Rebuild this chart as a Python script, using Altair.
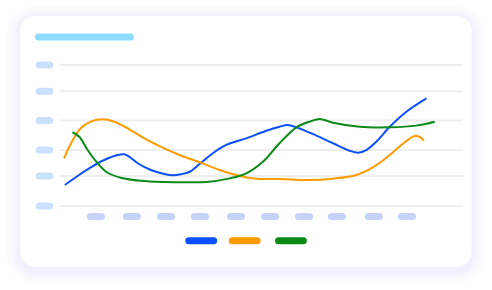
import altair as alt
import pandas as pd

# ---- chart values -------------------------------------------------------
series_names = ["Alpha", "Beta", "Gamma"]
series_colors = ["#0A50FF", "#FF9A00", "#0B8A17"]

alpha_x = [0.11, 0.48, 0.86, 1.25, 1.64, 1.83, 1.97, 2.22, 2.60, 2.99, 3.23, 3.47, 3.72,
           4.01, 4.39, 4.78, 5.36, 5.94, 6.32, 6.56, 6.81, 7.19, 7.39, 7.87, 8.35, 8.59,
           8.83, 9.12, 9.51, 9.99, 10.57]
alpha_y = [14.9, 21.3, 27.4, 32.6, 36.2, 36.7, 35.0, 30.3, 25.5, 22.7, 21.8, 22.5, 24.3,
           29.8, 37.4, 43.3, 48.0, 53.4, 56.2, 57.4, 55.8, 52.0, 49.9, 44.5, 39.2, 37.8,
           39.7, 45.6, 56.2, 66.9, 76.4]

beta_x = [0.09, 0.29, 0.57, 0.86, 1.20, 1.54, 1.93, 2.41, 2.99, 3.43, 4.01, 4.59, 5.17,
          5.65, 6.32, 7.19, 7.87, 8.54, 9.02, 9.51, 9.99, 10.23, 10.38, 10.49]
beta_y = [33.8, 44.5, 55.1, 59.8, 61.5, 59.8, 55.1, 48.0, 40.9, 36.2, 31.0, 25.5, 21.3,
          19.4, 19.1, 18.4, 19.4, 22.0, 27.4, 36.2, 46.1, 49.6, 49.1, 46.3]

gamma_x = [0.33, 0.53, 0.77, 1.06, 1.35, 1.73, 2.31, 2.99, 3.66, 4.20, 4.88, 5.36, 5.84,
           6.32, 6.81, 7.19, 7.48, 7.87, 8.64, 9.51, 10.28, 10.81]
gamma_y = [52.3, 49.1, 39.7, 30.3, 23.6, 20.1, 17.9, 17.0, 16.8, 17.0, 19.6, 23.2, 31.4,
           44.5, 55.8, 59.8, 61.7, 59.1, 56.2, 55.8, 57.0, 59.8]

# placeholder label slots: period markers along x, level markers along y
period_x = [1.01, 2.05, 3.04, 4.02, 5.06, 6.05, 7.03, 7.98, 9.05, 10.01]
level_y = [100.0, 81.3, 60.6, 39.7, 21.3, 0.0]

# ---- scales ---------------------------------------------------------------
W, H = 401, 141
x_dom = [0, 11.6]
y_dom = [0, 100]
xs = alt.Scale(domain=x_dom, nice=False, zero=False)
ys = alt.Scale(domain=y_dom, nice=False, zero=False)

# card frame in data units (extends beyond the plotting domain)
card_x = [-1.186, 11.881]
card_y = [134.75, -43.05]
title_slot = [-0.651, 2.010, 119.9]
axis_slot_x = [-0.631, -0.324]
period_slot_y = -7.45
legend_slot_y = -24.6
legend_slot_x = [4.056, 5.314, 6.652]


def span(chart, y_field="y"):
    return chart.encode(
        x=alt.X("x0:Q", scale=xs, axis=None), x2="x1",
        y=alt.Y(f"{y_field}:Q", scale=ys, axis=None),
    )


# ---- frame ---------------------------------------------------------------
shadow_df = pd.DataFrame({
    "x0": card_x[0], "x1": card_x[1],
    "y0": card_y[0] - 2.1, "y1": card_y[1] - 2.1,
    "w": [26, 20, 14, 9, 4],
})
shadow = alt.Chart(shadow_df).mark_rect(
    fillOpacity=0, stroke="#C3D0FF", strokeOpacity=0.055, cornerRadius=15
).encode(
    x=alt.X("x0:Q", scale=xs, axis=None), x2="x1",
    y=alt.Y("y0:Q", scale=ys, axis=None), y2="y1",
    strokeWidth=alt.StrokeWidth("w:Q", scale=None, legend=None),
)

card_df = pd.DataFrame({"x0": [card_x[0]], "x1": [card_x[1]],
                        "y0": [card_y[0]], "y1": [card_y[1]]})
card = alt.Chart(card_df).mark_rect(fill="white", cornerRadius=15).encode(
    x=alt.X("x0:Q", scale=xs, axis=None), x2="x1",
    y=alt.Y("y0:Q", scale=ys, axis=None), y2="y1",
)

grid_df = pd.DataFrame({"y": level_y, "x0": x_dom[0] - 0.03, "x1": x_dom[1] + 0.03})
grid = span(alt.Chart(grid_df).mark_rule(color="#EEEEEE", strokeWidth=2))

# ---- placeholder pills ----------------------------------------------------
title_df = pd.DataFrame({"x0": [title_slot[0]], "x1": [title_slot[1]], "y": [title_slot[2]]})
title_pill = span(alt.Chart(title_df).mark_rule(strokeCap="round", strokeWidth=7,
                                                color="#8DDCFF"))

level_df = pd.DataFrame({"y": level_y, "x0": axis_slot_x[0], "x1": axis_slot_x[1]})
level_pills = span(alt.Chart(level_df).mark_rule(strokeCap="round", strokeWidth=7,
                                                 color="#C9E1FE"))

period_df = pd.DataFrame({"c": period_x, "y": period_slot_y})
period_pills = span(
    alt.Chart(period_df).transform_calculate(
        x0="datum.c - 0.16", x1="datum.c + 0.16"
    ).mark_rule(strokeCap="round", strokeWidth=7, color="#C5D3FA")
)

color_scale = alt.Scale(domain=series_names, range=series_colors)

legend_df = pd.DataFrame({"series": series_names, "c": legend_slot_x, "y": legend_slot_y})
legend_pills = span(
    alt.Chart(legend_df).transform_calculate(
        x0="datum.c - 0.36", x1="datum.c + 0.36"
    ).mark_rule(strokeCap="round", strokeWidth=7)
).encode(color=alt.Color("series:N", scale=color_scale, legend=None))

# ---- series lines ---------------------------------------------------------
rows = []
for name, xv, yv in [("Alpha", alpha_x, alpha_y),
                     ("Beta", beta_x, beta_y),
                     ("Gamma", gamma_x, gamma_y)]:
    rows += [{"series": name, "x": a, "y": b} for a, b in zip(xv, yv)]
lines_df = pd.DataFrame(rows)

lines = alt.Chart(lines_df).mark_line(interpolate="catmull-rom", strokeWidth=2).encode(
    x=alt.X("x:Q", scale=xs, axis=None),
    y=alt.Y("y:Q", scale=ys, axis=None),
    color=alt.Color("series:N", scale=color_scale, legend=None),
)

chart = alt.layer(
    shadow, card, grid, title_pill, level_pills, period_pills, legend_pills, lines
).properties(
    width=W, height=H,
    padding={"left": 61, "top": 65, "right": 30, "bottom": 84},
    autosize=alt.AutoSizeParams(type="none"),
    background="white",
).configure_view(stroke=None)

chart.save("out.html", embed_options={"renderer": "svg", "actions": False})
